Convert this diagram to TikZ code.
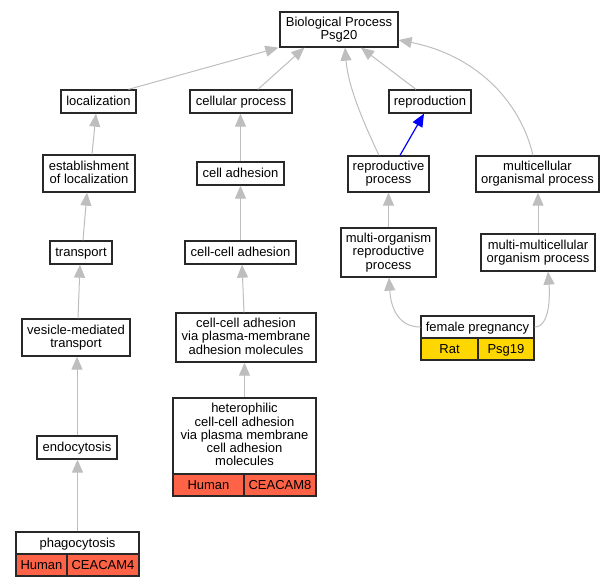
\documentclass[tikz,border=0pt]{standalone}
\usepackage{fontspec}
\setmainfont{Liberation Sans}
\usetikzlibrary{arrows.meta,calc}
\definecolor{edgegray}{RGB}{190,190,190}
\definecolor{tomatored}{RGB}{255,99,71}
\definecolor{goldy}{RGB}{255,215,0}
\definecolor{borderc}{RGB}{40,40,40}
\begin{document}
\begin{tikzpicture}[x=1pt,y=-1pt,
  box/.style={draw=borderc,line width=1.3pt,fill=white,inner sep=0pt,align=center,
    font=\fontsize{13}{13.3}\selectfont,
    execute at begin node={\rule{0pt}{11.6pt}},
    execute at end node={\rule[-2.8pt]{0pt}{2.8pt}}},
  cellred/.style={box,fill=tomatored,minimum height=22pt},
  cellgold/.style={box,fill=goldy,minimum height=22pt},
  gedge/.style={draw=edgegray,line width=1pt,-{Triangle[length=13pt,width=11pt]}},
  bedge/.style={draw=blue,line width=1.2pt,-{Triangle[length=13pt,width=11pt]}}]
\useasboundingbox[fill=white] (0,0) rectangle (615,587);
% nodes
\node[box,minimum width=118pt,minimum height=35pt] (bp) at (339,29.5) {Biological Process\\Psg20};
\node[box,minimum width=75pt,minimum height=23pt] (loc) at (98.5,101.5) {localization};
\node[box,minimum width=102pt,minimum height=23pt] (cell) at (241,101.5) {cellular process};
\node[box,minimum width=82pt,minimum height=23pt] (repro) at (430,101.5) {reproduction};
\node[box,minimum width=81pt,minimum height=36pt] (rp) at (388.5,174) {reproductive\\process};
\node[box,minimum width=123pt,minimum height=36pt] (mop) at (537.5,174) {multicellular\\organismal process};
\node[box,minimum width=92pt,minimum height=37pt] (est) at (89,173.5) {establishment\\of localization};
\node[box,minimum width=87pt,minimum height=23pt] (ca) at (240.5,173.5) {cell adhesion};
\node[box,minimum width=62pt,minimum height=23pt] (tr) at (81,252.5) {transport};
\node[box,minimum width=111pt,minimum height=23pt] (cca) at (240.5,252.5) {cell-cell adhesion};
\node[box,minimum width=108pt,minimum height=37pt] (vmt) at (76,337.5) {vesicle-mediated\\transport};
\node[box,minimum width=140pt,minimum height=49pt] (ccavpm) at (246,337.5) {cell-cell adhesion\\via plasma-membrane\\adhesion molecules};
\node[box,minimum width=95pt,minimum height=49pt] (mor) at (388.5,252.5) {multi-organism\\reproductive\\process};
\node[box,minimum width=114pt,minimum height=37pt] (mmop) at (538,252.5) {multi-multicellular\\organism process};
\node[box,minimum width=113pt,minimum height=22pt] (fp) at (477.5,327) {female pregnancy};
\node[cellgold,minimum width=57pt] (fprat) at (449.5,349) {Rat};
\node[cellgold,minimum width=56pt] (fppsg) at (506,349) {Psg19};
\node[box,minimum width=80pt,minimum height=23pt] (endo) at (77,447.5) {endocytosis};
\node[box,minimum width=143pt,minimum height=76pt] (het) at (244.5,436) {heterophilic\\cell-cell adhesion\\via plasma membrane\\cell adhesion\\molecules};
\node[cellred,minimum width=71pt] (hethum) at (208.5,485) {Human};
\node[cellred,minimum width=72pt] (hetcea) at (280,485) {CEACAM8};
\node[box,minimum width=123pt,minimum height=22pt] (phag) at (77.5,543) {phagocytosis};
\node[cellred,minimum width=51pt] (phaghum) at (41.5,565) {Human};
\node[cellred,minimum width=72pt] (phagcea) at (103,565) {CEACAM4};
% edges
\draw[gedge] ($(loc.north)+(30,0)$) -- ($(bp.south west)+(-1,0)$);
\draw[gedge] ($(cell.north)+(17,0)$) -- ($(bp.south west)+(25,0)$);
\draw[gedge] ($(rp.north)+(-9.5,0)$) .. controls ($(rp.north)+(-26.5,-36)$) and ($(bp.south)+(9,38)$) .. ($(bp.south)+(6,0)$);
\draw[gedge] ($(repro.north)+(-14,0)$) -- ($(bp.south)+(22,0)$);
\draw[gedge] ($(mop.north)+(-4.5,0)$) .. controls (520,100) and (475,55) .. ($(bp.east)+(0,10.5)$);
\draw[bedge] ($(rp.north)+(11.5,0)$) -- ($(repro.south)+(-6,0)$);
\draw[gedge] ($(est.north)+(3,0)$) -- ($(loc.south)+(-2.5,0)$);
\draw[gedge] ($(tr.north)+(2,0)$) -- ($(est.south)+(-2,0)$);
\draw[gedge] ($(vmt.north)+(2,0)$) -- ($(tr.south)+(-1,0)$);
\draw[gedge] (endo.north) -- (endo.north |- vmt.south);
\draw[gedge] (phag.north) -- (phag.north |- endo.south);
\draw[gedge] (ca.north) -- (ca.north |- cell.south);
\draw[gedge] (cca.north) -- (cca.north |- ca.south);
\draw[gedge] ($(ccavpm.north)+(-2,0)$) -- ($(cca.south)+(1.5,0)$);
\draw[gedge] (het.north) -- (het.north |- ccavpm.south);
\draw[gedge] (mor.north) -- (mor.north |- rp.south);
\draw[gedge] (mmop.north) -- (mmop.north |- mop.south);
\draw[gedge] (fp.west) .. controls ($(fp.west)+(-25,0)$) and ($(mor.south)+(2,25)$) .. ($(mor.south)+(0.5,0)$);
\draw[gedge] (fp.east) .. controls ($(fp.east)+(15,0)$) and ($(mmop.south)+(12,25)$) .. ($(mmop.south)+(10,0)$);
\end{tikzpicture}
\end{document}
